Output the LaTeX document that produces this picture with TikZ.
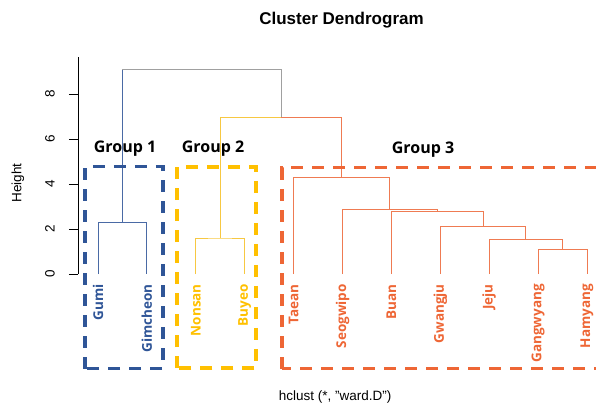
\documentclass[tikz,border=0pt]{standalone}
\usepackage{fontspec}
\setmainfont{Liberation Sans}
\newfontfamily\labfont{Open Sans}

\definecolor{grpblue}{HTML}{2F5597}
\definecolor{grpyellow}{HTML}{FFC000}
\definecolor{grporange}{HTML}{EE6635}
\definecolor{lineblue}{HTML}{4A6AA5}
\definecolor{lineyellow}{HTML}{F7C842}
\definecolor{lineorange}{HTML}{EF7B52}
\definecolor{linegray}{HTML}{A0A0A0}

\tikzset{
  branch/.style={line width=0.9pt},
  grpbox/.style={line width=3.2pt, dash pattern=on 12pt off 9pt},
  leaflab/.style={rotate=90, anchor=east, inner sep=0pt, font=\labfont\bfseries\fontsize{13.5}{14}\selectfont},
  grplab/.style={font=\labfont\bfseries\fontsize{16}{18}\selectfont},
  axislab/.style={font=\fontsize{13.5}{15}\selectfont}
}

\begin{document}
\begin{tikzpicture}[x=48.9pt, y=22.5pt]
    \useasboundingbox (-2.004, -5.911) rectangle (10.184, 12.178);

    % axis
    \draw[line width=0.8pt] (-0.409, 0) -- (-0.409, 9.64);
    \foreach \h in {0,2,4,6,8} {
      \draw[line width=0.8pt] (-0.593, \h) -- (-0.409, \h);
      \node[axislab, rotate=90] (tick\h) at (-0.982, \h) {\h};
    }
    \node[axislab, rotate=90] (ylab) at (-1.636, 4.04) {Height};
    \node[font=\bfseries\fontsize{17}{20}\selectfont] (title) at (4.98, 11.29) {Cluster Dendrogram};
    \node[axislab] (xlab) at (4.847, -5.467) {hclust (*, "ward.D")};

    % leaves and merge points
    \foreach \i in {0,...,10}
      \coordinate (L\i) at (\i, 0);
    \coordinate (m1) at (0.5, 2.27);
    \coordinate (m2) at (2.5, 1.6);
    \coordinate (a) at (9.5, 1.07);
    \coordinate (b) at (8.75, 1.54);
    \coordinate (c) at (7.875, 2.13);
    \coordinate (d) at (6.9375, 2.77);
    \coordinate (e) at (5.96875, 2.89);
    \coordinate (f) at (4.984, 4.28);
    \coordinate (g) at (3.742, 6.98);
    \coordinate (top) at (2.121, 9.07);

    % branches
    \draw[branch, lineblue] (L0) |- (m1) -| (L1);
    \draw[branch, lineblue] (m1) -- (m1 |- top);
    \draw[branch, linegray] (m1 |- top) -| (g);
    \draw[branch, lineyellow] (L2) |- (m2) -| (L3);
    \draw[branch, lineyellow] (m2) |- (g);
    \draw[branch, lineorange] (f) |- (g);
    \draw[branch, lineorange] (L9) |- (a) -| (L10);
    \draw[branch, lineorange] (L8) |- (b) -| (a);
    \draw[branch, lineorange] (L7) |- (c) -| (b);
    \draw[branch, lineorange] (L6) |- (d) -| (c);
    \draw[branch, lineorange] (L5) |- (e) -| (d);
    \draw[branch, lineorange] (L4) |- (f) -| (e);

    % leaf labels
    \foreach \name [count=\i from 0] in {Gumi,Gimcheon}
      \node[leaflab, text=grpblue] (lab\i) at (\i, -0.444) {\name};
    \foreach \name [count=\i from 2] in {Nonsan,Buyeo}
      \node[leaflab, text=grpyellow] (lab\i) at (\i, -0.444) {\name};
    \foreach \name [count=\i from 4] in {Taean,Seogwipo,Buan,Gwangju,Jeju,Gangwyang,Hamyang}
      \node[leaflab, text=grporange] (lab\i) at (\i, -0.444) {\name};

    % groups
    \draw[grpbox, grpblue] (-0.266, -4.2) rectangle (1.329, 4.78);
    \draw[grpbox, grpyellow] (1.616, -4.18) rectangle (3.231, 4.76);
    \draw[grpbox, grporange] (3.763, -4.2) rectangle (10.27, 4.72);
    \node[grplab] (g1) at (0.552, 5.556) {Group 1};
    \node[grplab] (g2) at (2.352, 5.556) {Group 2};
    \node[grplab] (g3) at (6.646, 5.51) {Group 3};
  \end{tikzpicture}
\end{document}
